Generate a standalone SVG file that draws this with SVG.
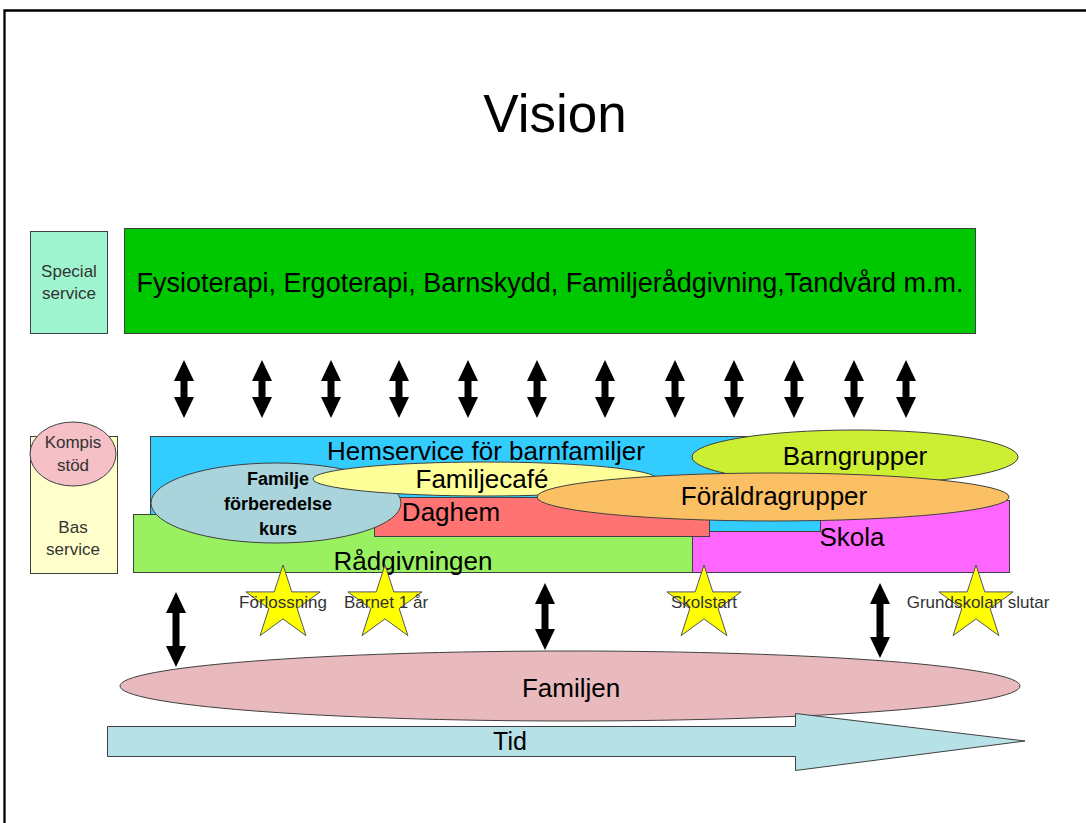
<svg xmlns="http://www.w3.org/2000/svg" width="1086" height="823" viewBox="0 0 1086 823">
<style>
text{font-family:"Liberation Sans",Arial,sans-serif;fill:#000;text-anchor:middle}
.b{stroke:#404040;stroke-width:1}
.lbl{font-size:26px}
.sm{font-size:17px;fill:#333}
.bold{font-size:18px;font-weight:bold}
.st{fill:#ffff00;stroke:#555;stroke-width:1}
.conn{stroke:#000;stroke-width:7;fill:none;marker-start:url(#ah);marker-end:url(#ah)}
</style>
<defs>
<marker id="ah" markerUnits="userSpaceOnUse" viewBox="0 0 21 20" refX="0" refY="10" markerWidth="21" markerHeight="20" orient="auto-start-reverse">
<path d="M0,0 L21,10 L0,20 z" fill="#000"/>
</marker>
<path id="star" d="M0,-39 L8.8,-12.1 L37.1,-12.1 L14.2,4.6 L22.9,31.6 L0,14.9 L-22.9,31.6 L-14.2,4.6 L-37.1,-12.1 L-8.8,-12.1 z"/>
</defs>
<rect width="1086" height="823" fill="#fff"/>
<path d="M4.5,823 V10.5 H1086" fill="none" stroke="#000" stroke-width="2.3"/>
<text x="555" y="132" style="font-size:53px">Vision</text>

<g id="special-service">
<rect class="b" x="30.5" y="231.5" width="77" height="102" fill="#9ff5cf"/>
<text class="sm" x="69" y="277">Special</text>
<text class="sm" x="69" y="299">service</text>
</g>
<g id="specialist-services">
<rect class="b" x="124.5" y="228.5" width="851" height="105" fill="#00c800"/>
<text x="550" y="292" style="font-size:27px">Fysioterapi, Ergoterapi, Barnskydd, Familjerådgivning,Tandvård m.m.</text>
</g>

<g id="bas-service">
<rect class="b" x="30.5" y="436.5" width="87" height="137" fill="#ffffcc"/>
<text class="sm" x="73" y="533">Bas</text>
<text class="sm" x="73" y="555">service</text>
</g>
<g id="kompis-stod">
<ellipse class="b" cx="73" cy="454" rx="43" ry="32" fill="#f5c0c6"/>
<text class="sm" x="73" y="448">Kompis</text>
<text class="sm" x="73" y="471">stöd</text>
</g>

<g id="skola">
<rect class="b" x="692.5" y="500.5" width="317" height="72" fill="#ff66ff"/>
<text class="lbl" x="852" y="546">Skola</text>
</g>
<g id="hemservice">
<rect class="b" x="150.5" y="436.5" width="670" height="95" fill="#33ccff"/>
<text class="lbl" x="486" y="460">Hemservice för barnfamiljer</text>
</g>
<g id="radgivningen">
<rect class="b" x="133.5" y="514.5" width="559" height="58" fill="#99f060"/>
<text class="lbl" x="413" y="570">Rådgivningen</text>
</g>
<g id="daghem">
<rect class="b" x="374.5" y="497.5" width="335" height="39" fill="#ff7373"/>
<text class="lbl" x="451" y="521">Daghem</text>
</g>
<g id="familje-forberedelse-kurs">
<ellipse class="b" cx="276" cy="503" rx="125" ry="40" fill="#aad4dc"/>
<text class="bold" x="278" y="485">Familje</text>
<text class="bold" x="278" y="510">förberedelse</text>
<text class="bold" x="278" y="535">kurs</text>
</g>
<g id="familjecafe">
<ellipse class="b" cx="485" cy="479" rx="172" ry="17" fill="#ffff99"/>
<text class="lbl" x="482" y="488">Familjecafé</text>
</g>
<g id="barngrupper">
<ellipse class="b" cx="855" cy="457" rx="163" ry="27" fill="#ccee33"/>
<text class="lbl" x="855" y="465">Barngrupper</text>
</g>
<g id="foraldragrupper">
<ellipse class="b" cx="773" cy="497" rx="236" ry="24" fill="#fbbf64"/>
<text class="lbl" x="774" y="505">Föräldragrupper</text>
</g>

<g id="milestones">
<use href="#star" class="st" x="283" y="604"/>
<use href="#star" class="st" x="385" y="604"/>
<use href="#star" class="st" x="704" y="604"/>
<use href="#star" class="st" x="976" y="604"/>
<text class="sm" x="283" y="608">Förlossning</text>
<text class="sm" x="386" y="608">Barnet 1 år</text>
<text class="sm" x="704" y="608">Skolstart</text>
<text class="sm" x="978" y="608">Grundskolan slutar</text>
</g>

<g id="familjen">
<ellipse class="b" cx="570" cy="686" rx="450" ry="35" fill="#e8b9bd"/>
<text class="lbl" x="571" y="697">Familjen</text>
</g>
<g id="tid">
<path class="b" d="M107.5,726.5 H795.5 V713.5 L1025,741 L795.5,770.5 V756.5 H107.5 z" fill="#b6e2e7"/>
<text x="510" y="750" style="font-size:25px">Tid</text>
</g>

<g id="connectors">
<line class="conn" x1="184" y1="381" x2="184" y2="397"/>
<line class="conn" x1="262" y1="381" x2="262" y2="397"/>
<line class="conn" x1="331" y1="381" x2="331" y2="397"/>
<line class="conn" x1="399" y1="381" x2="399" y2="397"/>
<line class="conn" x1="468" y1="381" x2="468" y2="397"/>
<line class="conn" x1="537" y1="381" x2="537" y2="397"/>
<line class="conn" x1="605" y1="381" x2="605" y2="397"/>
<line class="conn" x1="675" y1="381" x2="675" y2="397"/>
<line class="conn" x1="734" y1="381" x2="734" y2="397"/>
<line class="conn" x1="794" y1="381" x2="794" y2="397"/>
<line class="conn" x1="854" y1="381" x2="854" y2="397"/>
<line class="conn" x1="906" y1="381" x2="906" y2="397"/>
<line class="conn" x1="176" y1="613" x2="176" y2="646"/>
<line class="conn" x1="545" y1="604" x2="545" y2="629"/>
<line class="conn" x1="880" y1="604" x2="880" y2="637"/>
</g>
</svg>
